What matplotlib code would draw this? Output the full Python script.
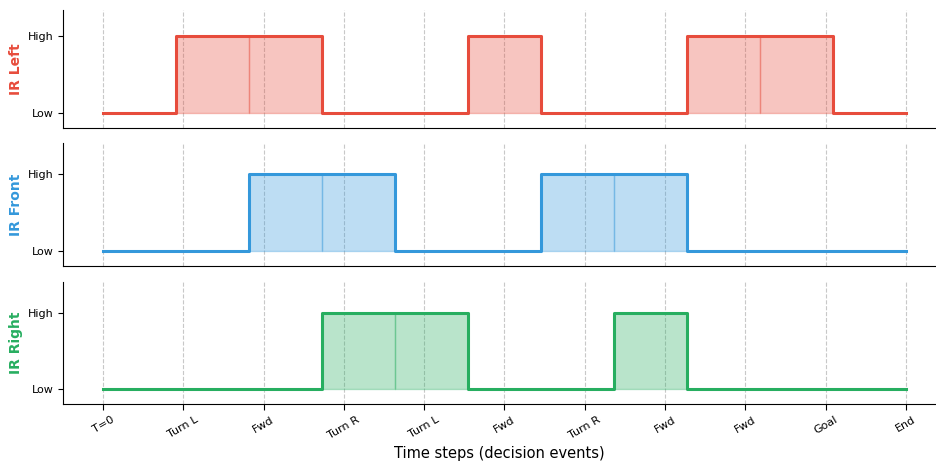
import numpy as np
import matplotlib
matplotlib.use('Agg')
import matplotlib.pyplot as plt

# step boundaries (one per decision event, plus the end)
steps = np.arange(12)
ir_left = [0, 1, 1, 0, 0, 1, 0, 0, 1, 1, 0]
ir_front = [0, 0, 1, 1, 0, 0, 1, 1, 0, 0, 0]
ir_right = [0, 0, 0, 1, 1, 0, 0, 1, 0, 0, 0]

tick_labels = ['T=0', 'Turn L', 'Fwd', 'Turn R', 'Turn L', 'Fwd',
               'Turn R', 'Fwd', 'Fwd', 'Goal', 'End']
tick_pos = np.linspace(0, 11, len(tick_labels))

sensors = [('IR Left', ir_left, '#e74c3c'),
           ('IR Front', ir_front, '#3498db'),
           ('IR Right', ir_right, '#27ae60')]

W, H = 936, 461
fig = plt.figure(figsize=(W / 100, H / 100), dpi=100)

# panel boxes in pixels: (top, bottom, ylim top)
boxes = [(10, 128, 1.34), (143, 266, 1.40), (282, 404, 1.40)]
axes = []
for top, bot, ytop in boxes:
    ax = fig.add_axes([63 / W, 1 - bot / H, 872 / W, (bot - top) / H],
                      sharex=axes[0] if axes else None)
    ax.set_ylim(-0.195, ytop)
    axes.append(ax)

for ax, (name, vals, col) in zip(axes, sensors):
    y = list(vals) + [vals[-1]]
    ax.step(steps, y, where='post', color=col, linewidth=2.2, zorder=3)
    for i, v in enumerate(vals):
        if v:
            ax.fill_between([steps[i], steps[i + 1]], 0, v, color=col,
                            alpha=0.32, linewidth=1, zorder=2)
    for t in tick_pos:
        ax.axvline(t, color='#c8c8c8', linestyle='--', linewidth=0.8, zorder=1)
    ax.set_yticks([0, 1])
    ax.set_yticklabels(['Low', 'High'], fontsize=8)
    ax.set_ylabel(name, color=col, fontweight='bold', fontsize=10, labelpad=3)
    ax.spines['top'].set_visible(False)
    ax.spines['right'].set_visible(False)
    ax.tick_params(axis='x', length=4)
    if ax is not axes[-1]:
        ax.tick_params(axis='x', bottom=False, labelbottom=False)

axes[-1].set_xlim(-0.55, 11.4)
axes[-1].set_xticks(tick_pos)
axes[-1].set_xticklabels(tick_labels, rotation=30, fontsize=8)
axes[-1].set_xlabel('Time steps (decision events)', fontsize=10.5)

fig.savefig('out.png', dpi=100)
